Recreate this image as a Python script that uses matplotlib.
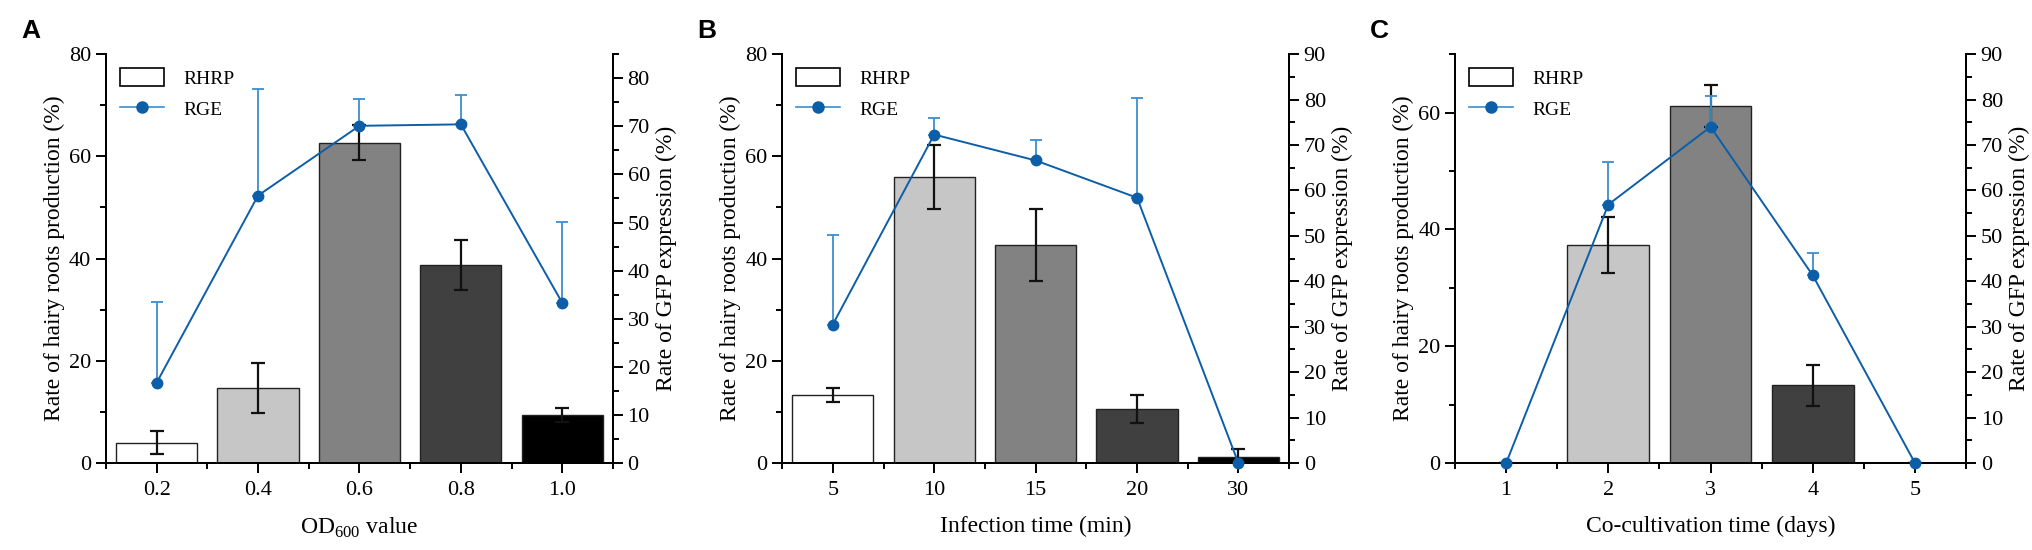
import numpy as np
import matplotlib
matplotlib.use('Agg')
import matplotlib.pyplot as plt
from matplotlib.ticker import MultipleLocator
from matplotlib.patches import Patch
from matplotlib.lines import Line2D

plt.rcParams['font.family'] = ['Liberation Serif', 'DejaVu Serif']
plt.rcParams['mathtext.fontset'] = 'custom'
plt.rcParams['mathtext.rm'] = 'Liberation Serif'

# Panel A: OD600
od_labels = ['0.2', '0.4', '0.6', '0.8', '1.0']
od_rhrp = [4.0, 14.7, 62.7, 38.7, 9.4]
od_rhrp_err = [2.3, 4.9, 3.4, 4.85, 1.35]
od_rge = [16.7, 55.6, 70.1, 70.4, 33.3]
od_rge_err = [16.7, 22.2, 5.6, 6.1, 16.8]

# Panel B: infection time
inf_labels = ['5', '10', '15', '20', '30']
inf_rhrp = [13.3, 56.0, 42.7, 10.6, 1.2]
inf_rhrp_err = [1.4, 6.2, 7.0, 2.7, 1.5]
inf_rge = [30.5, 72.3, 66.6, 58.4, 0.0]
inf_rge_err = [19.6, 3.7, 4.4, 22.0, 0.0]

# Panel C: co-cultivation time
co_labels = ['1', '2', '3', '4', '5']
co_rhrp = [0.0, 37.4, 61.2, 13.3, 0.0]
co_rhrp_err = [0.0, 4.8, 3.6, 3.5, 0.0]
co_rge = [0.0, 56.9, 74.0, 41.3, 0.0]
co_rge_err = [0.0, 9.4, 6.8, 5.0, 0.0]

bar_colors = ['white', '#c6c6c6', '#828282', '#404040', 'black']
line_color = '#0d5ea8'
err_color = '#3b8fd0'

panels = [
    dict(letter='A', labels=od_labels, rhrp=od_rhrp, rhrp_err=od_rhrp_err,
         rge=od_rge, rge_err=od_rge_err, xlabel=r'OD$_{\mathregular{600}}$ value',
         ylim=80, y2lim=85, rect=[0.0521, 0.158, 0.2494, 0.7436]),
    dict(letter='B', labels=inf_labels, rhrp=inf_rhrp, rhrp_err=inf_rhrp_err,
         rge=inf_rge, rge_err=inf_rge_err, xlabel='Infection time (min)',
         ylim=80, y2lim=90, rect=[0.3847, 0.158, 0.2494, 0.7436]),
    dict(letter='C', labels=co_labels, rhrp=co_rhrp, rhrp_err=co_rhrp_err,
         rge=co_rge, rge_err=co_rge_err, xlabel='Co-cultivation time (days)',
         ylim=70, y2lim=90, rect=[0.7157, 0.158, 0.2514, 0.7436]),
]

fig = plt.figure(figsize=(20.33, 5.5), dpi=100)

for p in panels:
    ax = fig.add_axes(p['rect'])
    x = np.arange(len(p['labels']))
    ax.bar(x, p['rhrp'], width=0.8, color=bar_colors, edgecolor='#222222', linewidth=1.0,
           yerr=p['rhrp_err'], error_kw=dict(ecolor='#111111', elinewidth=1.6, capsize=5, capthick=1.6))
    ax.set_xlim(-0.5, len(x) - 0.5)
    ax.set_ylim(0, p['ylim'])
    ax.set_xticks(x)
    ax.set_xticklabels(p['labels'])
    ax.xaxis.set_minor_locator(MultipleLocator(1, offset=0.5))
    ax.yaxis.set_major_locator(MultipleLocator(20))
    ax.yaxis.set_minor_locator(MultipleLocator(10))
    ax.spines['top'].set_visible(False)
    ax.set_ylabel('Rate of hairy roots production (%)', fontsize=17, labelpad=3)
    ax.set_xlabel(p['xlabel'], fontsize=17, labelpad=11)

    ax2 = ax.twinx()
    ax2.errorbar(x, p['rge'], yerr=[np.zeros(len(x)), p['rge_err']], fmt='none',
                 ecolor=err_color, elinewidth=1.3, capsize=4, capthick=1.3)
    ax2.plot(x, p['rge'], color=line_color, lw=1.4, marker='o', ms=7.5, clip_on=False, zorder=3)
    ax2.set_ylim(0, p['y2lim'])
    ax2.yaxis.set_major_locator(MultipleLocator(10))
    ax2.yaxis.set_minor_locator(MultipleLocator(5))
    ax2.spines['top'].set_visible(False)
    ax2.set_ylabel('Rate of GFP expression (%)', fontsize=17, labelpad=4)

    for a in (ax, ax2):
        for s in a.spines.values():
            s.set_linewidth(1.4)
        a.tick_params(which='major', direction='out', length=7, width=1.4, labelsize=16)
        a.tick_params(which='minor', direction='out', length=4, width=1.4)
    ax.tick_params(axis='x', which='major', pad=6)

    handles = [Patch(facecolor='white', edgecolor='black', linewidth=1.2),
               Line2D([0], [0], color=err_color, lw=1.2, marker='o', ms=8,
                      markerfacecolor=line_color, markeredgecolor=line_color)]
    ax2.legend(handles, ['RHRP', 'RGE'], loc='upper left', frameon=False, fontsize=14,
               handlelength=2.3, handleheight=1.1, labelspacing=0.6,
               borderaxespad=0.3, handletextpad=1.0)

    fig.text(p['rect'][0] - 0.037, 0.944, p['letter'], fontsize=19, fontweight='bold',
             family='Liberation Sans', va='center', ha='center')

fig.savefig('out.png', dpi=100)
